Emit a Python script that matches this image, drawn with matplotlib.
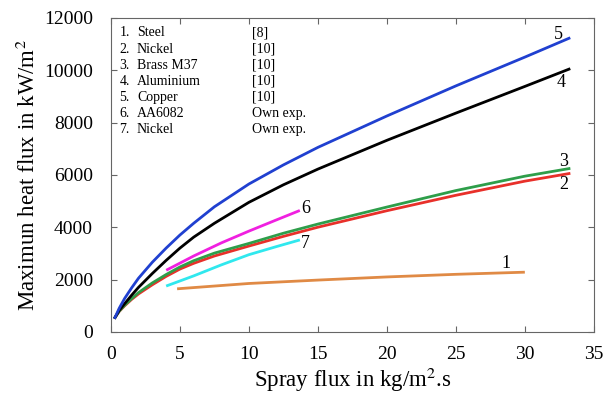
import matplotlib
matplotlib.use('agg')
from matplotlib import pyplot as plt

plt.rcParams['font.family'] = ['Liberation Serif', 'DejaVu Serif']
plt.rcParams['mathtext.fontset'] = 'stix'

# series (spray flux, heat flux)
x_steel = [4.9, 10, 15, 20, 25, 29.9]
y_steel = [1650, 1850, 1980, 2100, 2200, 2280]

x_nickel = [0.3, 0.6, 1, 1.5, 2, 3, 4, 5, 6, 7.5, 10, 12.5, 15, 20, 25, 30, 33.2]
y_nickel = [550, 780, 1000, 1240, 1450, 1800, 2120, 2400, 2620, 2900, 3280, 3650, 4000, 4630, 5220, 5760, 6050]

x_brass = [0.3, 0.6, 1, 1.5, 2, 3, 4, 5, 6, 7.5, 10, 12.5, 15, 20, 25, 30, 33.2]
y_brass = [550, 790, 1020, 1270, 1500, 1870, 2190, 2480, 2720, 3010, 3380, 3770, 4120, 4770, 5400, 5950, 6240]

x_alu = [0.3, 0.6, 1, 1.5, 2, 3, 4, 5, 6, 7.5, 10, 12.5, 15, 20, 25, 30, 33.2]
y_alu = [550, 820, 1080, 1400, 1700, 2230, 2730, 3200, 3620, 4150, 4950, 5620, 6220, 7320, 8360, 9380, 10040]

x_copper = [0.3, 0.6, 1, 1.5, 2, 3, 4, 5, 6, 7.5, 10, 12.5, 15, 20, 25, 30, 33.2]
y_copper = [550, 900, 1280, 1680, 2050, 2660, 3200, 3700, 4150, 4780, 5650, 6380, 7050, 8250, 9400, 10500, 11220]

x_aa6082 = [4.1, 6, 8, 10, 12, 13.6]
y_aa6082 = [2380, 2900, 3400, 3850, 4280, 4620]

x_nickel_own = [4.1, 6, 8, 10, 12, 13.6]
y_nickel_own = [1770, 2140, 2560, 2950, 3260, 3500]

legend_names = ['Steel', 'Nickel', 'Brass M37', 'Aluminium', 'Copper', 'AA6082', 'Nickel']
legend_refs = ['[8]', '[10]', '[10]', '[10]', '[10]', 'Own exp.', 'Own exp.']

fig = plt.figure(figsize=(6.16, 3.97), dpi=100)
ax = fig.add_axes([0.180, 0.164, 0.784, 0.791])

ax.plot(x_steel, y_steel, color='#e08a45', lw=2)
ax.plot(x_nickel, y_nickel, color='#e8302a', lw=2)
ax.plot(x_brass, y_brass, color='#2e9e4a', lw=2)
ax.plot(x_alu, y_alu, color='black', lw=2)
ax.plot(x_copper, y_copper, color='#2040d0', lw=2)
ax.plot(x_aa6082, y_aa6082, color='#f020e0', lw=2)
ax.plot(x_nickel_own, y_nickel_own, color='#30e8ee', lw=2)

# curve numbers
lab = dict(fontsize=13, ha='center', va='center')
ax.text(32.4, 11350, '5', **lab)
ax.text(32.6, 9540, '4', **lab)
ax.text(32.8, 6500, '3', **lab)
ax.text(32.8, 5650, '2', **lab)
ax.text(28.6, 2615, '1', **lab)
ax.text(14.1, 4730, '6', **lab)
ax.text(14.1, 3380, '7', **lab)

for i, (name, ref) in enumerate(zip(legend_names, legend_refs)):
    yy = 0.952 - i * 0.0513
    ax.text(0.018, yy, '%d.' % (i + 1), transform=ax.transAxes, fontsize=10, va='center')
    ax.text(0.054, yy, name, transform=ax.transAxes, fontsize=10, va='center')
    ax.text(0.292, yy, ref, transform=ax.transAxes, fontsize=10, va='center')

ax.set_xlim(0, 35)
ax.set_ylim(0, 12000)
ax.set_xticks(range(0, 36, 5))
ax.set_yticks(range(0, 12001, 2000))
ax.tick_params(direction='in', top=True, right=True, labelsize=14, length=4, color='#666666')
ax.tick_params(axis='x', pad=10)
ax.tick_params(axis='y', pad=13)
for s in ax.spines.values():
    s.set_color('#666666')

ax.set_xlabel('Spray flux in kg/m$^2$.s', fontsize=16.5, labelpad=2)
ax.set_ylabel('Maximun heat flux in kW/m$^2$', fontsize=16.5, labelpad=3)

fig.savefig('out.png', dpi=100)
